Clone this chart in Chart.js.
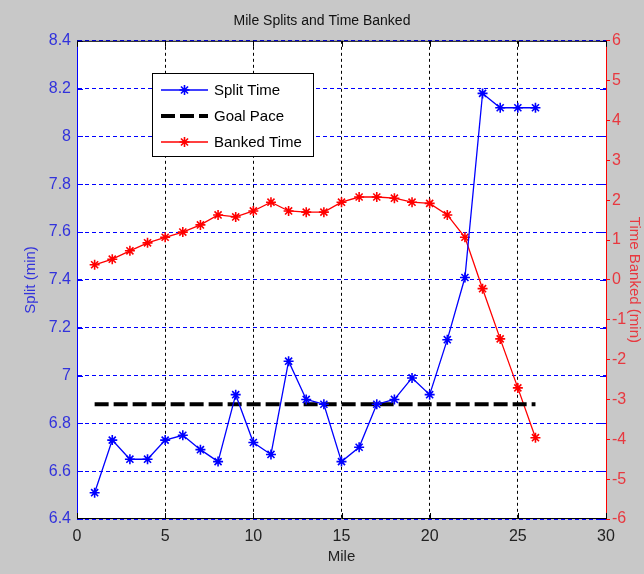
<!DOCTYPE html>
<html>
<head>
<meta charset="utf-8">
<script src="https://cdn.jsdelivr.net/npm/chart.js@4.4.1/dist/chart.umd.min.js"></script>
<style>
  html, body { margin: 0; padding: 0; background: #c8c8c8; }
  #chart { display: block; }
</style>
</head>
<body>
<canvas id="chart" width="644" height="574"></canvas>
<script>
// values
const miles = [1, 2, 3, 4, 5, 6, 7, 8, 9, 10, 11, 12, 13, 14, 15, 16, 17, 18, 19, 20, 21, 22, 23, 24, 25, 26];
const splitTime = [6.51, 6.73, 6.65, 6.65, 6.73, 6.75, 6.69, 6.64, 6.92, 6.72, 6.67, 7.06, 6.90,
                   6.88, 6.64, 6.70, 6.88, 6.90, 6.99, 6.92, 7.15, 7.41, 8.18, 8.12, 8.12, 8.12];
const bankedTime = [0.38, 0.52, 0.73, 0.93, 1.07, 1.20, 1.38, 1.63, 1.58, 1.73, 1.95, 1.73, 1.70,
                    1.70, 1.95, 2.08, 2.08, 2.05, 1.95, 1.92, 1.63, 1.07, -0.22, -1.48, -2.71, -3.96];
const goalMiles = [1, 26];
const goalPace = [6.88, 6.88];

const BLUE = '#0000ff';
const RED = '#ff0000';
const FONT = '"Liberation Sans", Arial, sans-serif';

function pairs(xs, ys) {
    return xs.map((x, i) => ({ x: x, y: ys[i] }));
}

// grey figure, white axes box, inward ticks, legend inside the axes
const matlabLook = {
    id: 'matlabLook',
    beforeDraw(chart) {
        const { ctx, chartArea: a } = chart;
        ctx.save();
        ctx.fillStyle = '#c8c8c8';
        ctx.fillRect(0, 0, chart.width, chart.height);
        ctx.fillStyle = '#ffffff';
        ctx.fillRect(a.left, a.top, a.right - a.left, a.bottom - a.top);
        ctx.restore();
    },
    afterDraw(chart) {
        const { ctx, chartArea: a, scales } = chart;
        ctx.save();
        ctx.setLineDash([]);
        ctx.lineWidth = 1;

        // x ticks, pointing in, top and bottom
        ctx.strokeStyle = '#000';
        scales.x.ticks.forEach(t => {
            const px = Math.round(scales.x.getPixelForValue(t.value)) + 0.5;
            ctx.beginPath();
            ctx.moveTo(px, a.bottom); ctx.lineTo(px, a.bottom - 6);
            ctx.moveTo(px, a.top); ctx.lineTo(px, a.top + 6);
            ctx.stroke();
        });
        // left axis ticks on both sides
        ctx.strokeStyle = BLUE;
        scales.y.ticks.forEach(t => {
            const py = Math.round(scales.y.getPixelForValue(t.value)) + 0.5;
            ctx.beginPath();
            ctx.moveTo(a.left, py); ctx.lineTo(a.left + 6, py);
            ctx.moveTo(a.right, py); ctx.lineTo(a.right - 6, py);
            ctx.stroke();
        });
        // top and bottom border
        ctx.strokeStyle = '#000';
        ctx.beginPath();
        ctx.moveTo(a.left, a.top + 0.5);
        ctx.lineTo(a.right, a.top + 0.5);
        ctx.moveTo(a.left, a.bottom - 0.5);
        ctx.lineTo(a.right, a.bottom - 0.5);
        ctx.stroke();

        // legend box
        const bx = 152, by = 73, bw = 161, bh = 83;
        ctx.fillStyle = '#fff';
        ctx.fillRect(bx, by, bw, bh);
        ctx.strokeStyle = '#000';
        ctx.strokeRect(bx + 0.5, by + 0.5, bw, bh);
        ctx.font = '15px ' + FONT;
        ctx.textBaseline = 'middle';
        ctx.textAlign = 'left';
        chart.data.datasets.forEach((ds, i) => {
            const cy = by + 17 + i * 26;
            ctx.save();
            ctx.strokeStyle = ds.borderColor;
            ctx.lineWidth = ds.borderWidth;
            ctx.setLineDash(ds.borderDash || []);
            ctx.beginPath();
            ctx.moveTo(161, cy);
            ctx.lineTo(208, cy);
            ctx.stroke();
            ctx.restore();
            if (ds.pointRadius > 0) {
                ctx.save();
                ctx.strokeStyle = ds.borderColor;
                ctx.lineWidth = ds.pointBorderWidth;
                Chart.helpers.drawPoint(ctx, { pointStyle: ds.pointStyle, radius: ds.pointRadius, borderWidth: ds.pointBorderWidth }, 184.5, cy);
                ctx.restore();
            }
            ctx.fillStyle = '#000';
            ctx.fillText(ds.label, 214, cy + 1);
        });
        ctx.restore();
    }
};

new Chart(document.getElementById('chart'), {
    type: 'line',
    data: {
        datasets: [{
            label: 'Split Time',
            data: pairs(miles, splitTime),
            yAxisID: 'y',
            borderColor: BLUE,
            backgroundColor: BLUE,
            borderWidth: 1.3,
            pointStyle: 'star',
            pointRadius: 5,
            pointBorderWidth: 1.6,
            pointBorderColor: BLUE,
            tension: 0
        }, {
            label: 'Goal Pace',
            data: pairs(goalMiles, goalPace),
            yAxisID: 'y',
            borderColor: '#000',
            borderWidth: 4,
            borderDash: [14, 5],
            pointRadius: 0,
            tension: 0
        }, {
            label: 'Banked Time',
            data: pairs(miles, bankedTime),
            yAxisID: 'y1',
            borderColor: RED,
            backgroundColor: RED,
            borderWidth: 1.3,
            pointStyle: 'star',
            pointRadius: 5,
            pointBorderWidth: 1.6,
            pointBorderColor: RED,
            tension: 0
        }]
    },
    options: {
        responsive: false,
        animation: false,
        devicePixelRatio: 1,
        events: [],
        layout: { padding: 0 },
        plugins: {
            legend: { display: false },
            tooltip: { enabled: false },
            title: {
                display: true,
                text: 'Mile Splits and Time Banked',
                color: '#111',
                font: { family: FONT, size: 14, weight: 'normal', lineHeight: 1.2 },
                padding: { top: 13, bottom: 11 }
            }
        },
        scales: {
            x: {
                type: 'linear',
                min: 0, max: 30,
                afterFit(s) { s.height = 55; },
                ticks: { stepSize: 5, color: '#222', padding: 8, font: { family: FONT, size: 16 } },
                grid: { color: '#000', lineWidth: 1, drawTicks: false },
                border: { color: '#000', dash: [3, 3], display: false },
                title: { display: true, text: 'Mile', color: '#222', font: { family: FONT, size: 15, lineHeight: 1.2 }, padding: { top: 0, bottom: 8 } }
            },
            y: {
                type: 'linear',
                position: 'left',
                min: 6.4, max: 8.4,
                afterFit(s) { s.width = 77; },
                ticks: {
                    stepSize: 0.2, color: '#3232dc', padding: 6,
                    font: { family: FONT, size: 16 },
                    callback: v => String(+v.toFixed(1))
                },
                grid: { color: BLUE, lineWidth: 1, drawTicks: false },
                border: { color: BLUE, dash: [4, 3], display: true },
                title: { display: true, text: 'Split (min)', color: '#3232dc', font: { family: FONT, size: 15, lineHeight: 1.2 }, padding: { top: 22, bottom: 0 } }
            },
            y1: {
                type: 'linear',
                position: 'right',
                min: -6, max: 6,
                afterFit(s) { s.width = 38; },
                ticks: { stepSize: 1, color: '#e8383f', padding: 2, font: { family: FONT, size: 16 } },
                grid: { drawOnChartArea: false, color: RED, tickLength: 4, drawTicks: true },
                border: { color: RED, display: true },
                title: { display: true, text: 'Time Banked (min)', color: '#e8383f', font: { family: FONT, size: 15, lineHeight: 1.2 }, padding: { top: 1, bottom: 0 } }
            }
        }
    },
    plugins: [matlabLook]
});
</script>
</body>
</html>
